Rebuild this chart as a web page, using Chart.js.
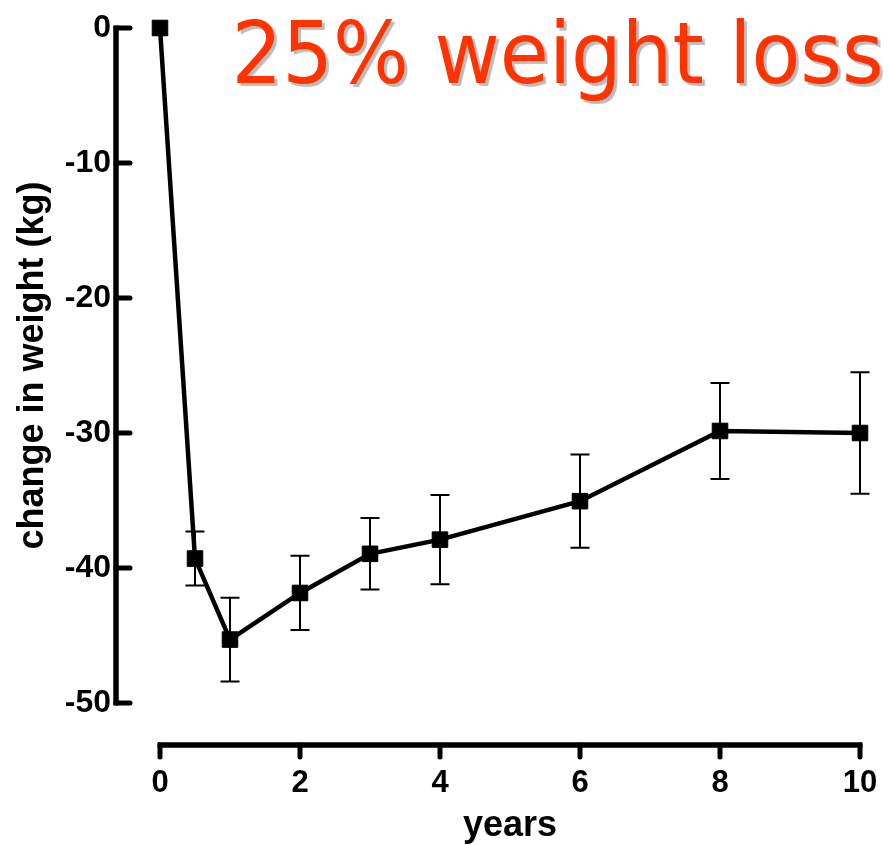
<!DOCTYPE html>
<html>
<head>
<meta charset="utf-8">
<script src="https://cdn.jsdelivr.net/npm/chart.js@4"></script>
<style>
body { margin: 0; background: #fff; }
#wrap { width: 888px; height: 845px; position: relative; }
</style>
</head>
<body>
<div id="wrap"><canvas id="myChart"></canvas></div>
<script>
var years = [0, 0.5, 1, 2, 3, 4, 6, 8, 10]
var change = [0, -39.3, -45.3, -41.85, -38.95, -37.9, -35.05, -29.85, -30.0]
var sem = [0, 2.0, 3.1, 2.75, 2.65, 3.3, 3.45, 3.55, 4.5]
var xTicks = [0, 2, 4, 6, 8, 10]
var yTicks = [0, -10, -20, -30, -40, -50]
var titleText = "25% weight loss"

var points = years.map(function (x, i) { return {x: x, y: change[i]} })
var fam = '"Liberation Sans", Arial, sans-serif'

function noPad(s) {
  s.paddingTop = 0; s.paddingBottom = 0; s.paddingLeft = 0; s.paddingRight = 0
}

var errorBars = {
  id: 'errorBars',
  beforeDatasetsDraw: function (chart) {
    var ctx = chart.ctx, xs = chart.scales.x, ys = chart.scales.y
    ctx.save()
    ctx.strokeStyle = '#000'
    ctx.lineWidth = 2
    years.forEach(function (x, i) {
      if (!sem[i]) return
      var px = xs.getPixelForValue(x)
      var top = ys.getPixelForValue(change[i] + sem[i])
      var bot = ys.getPixelForValue(change[i] - sem[i])
      ctx.beginPath()
      ctx.moveTo(px, top); ctx.lineTo(px, bot)
      ctx.moveTo(px - 9.5, top); ctx.lineTo(px + 9.5, top)
      ctx.moveTo(px - 9.5, bot); ctx.lineTo(px + 9.5, bot)
      ctx.stroke()
    })
    ctx.restore()
  }
}

var axesLines = {
  id: 'axesLines',
  afterDraw: function (chart) {
    var ctx = chart.ctx, xs = chart.scales.x, ys = chart.scales.y, a = chart.chartArea
    var ax = a.left - 44, ay = a.bottom + 42
    ctx.save()
    ctx.strokeStyle = '#000'
    ctx.lineWidth = 5.5
    ctx.lineCap = 'butt'
    ctx.beginPath()
    ctx.moveTo(ax, ys.getPixelForValue(yTicks[0]) - 2.5)
    ctx.lineTo(ax, ys.getPixelForValue(yTicks[yTicks.length - 1]) + 2.5)
    ctx.moveTo(xs.getPixelForValue(xTicks[0]) - 2.5, ay)
    ctx.lineTo(xs.getPixelForValue(xTicks[xTicks.length - 1]) + 2.5, ay)
    ctx.stroke()
    ctx.lineWidth = 5
    ctx.lineCap = 'round'
    ctx.beginPath()
    yTicks.forEach(function (v) {
      var py = ys.getPixelForValue(v)
      ctx.moveTo(ax, py); ctx.lineTo(ax + 14, py)
    })
    xTicks.forEach(function (v) {
      var px = xs.getPixelForValue(v)
      ctx.moveTo(px, ay); ctx.lineTo(px, ay + 12)
    })
    ctx.stroke()

    // big red title with grey shadow
    ctx.font = '86px "DejaVu Sans"'
    var m = ctx.measureText(titleText)
    var w = m.actualBoundingBoxLeft + m.actualBoundingBoxRight
    var sx = 643 / w
    ctx.translate(237, 83)
    ctx.scale(sx, 1)
    ctx.shadowColor = '#bcbcbc'
    ctx.shadowOffsetX = 3
    ctx.shadowOffsetY = 3
    ctx.shadowBlur = 1
    ctx.fillStyle = 'rgb(255,51,0)'
    ctx.textBaseline = 'alphabetic'
    ctx.fillText(titleText, m.actualBoundingBoxLeft, 0)
    ctx.restore()
  }
}

var myChart = new Chart(document.querySelector('#myChart'), {
  type: 'line',
  data: {
    datasets: [{
      data: points,
      borderColor: '#000',
      borderWidth: 4.5,
      tension: 0,
      fill: false,
      clip: false,
      pointStyle: 'rect',
      pointRadius: 11,
      pointHoverRadius: 11,
      pointBackgroundColor: '#000',
      pointBorderColor: '#000',
      pointBorderWidth: 1
    }]
  },
  options: {
    responsive: true,
    maintainAspectRatio: false,
    animation: false,
    devicePixelRatio: 1,
    layout: {padding: {top: 28, right: 28, left: 0, bottom: 0}},
    plugins: {legend: {display: false}, tooltip: {enabled: false}},
    scales: {
      x: {
        type: 'linear',
        min: 0,
        max: 10,
        afterFit: function (s) { s.height = 142; noPad(s) },
        afterBuildTicks: function (s) { s.ticks = xTicks.map(function (v) { return {value: v} }) },
        grid: {display: false, drawTicks: false},
        border: {display: false},
        ticks: {padding: 62, color: '#000', maxRotation: 0, font: {family: fam, weight: 'bold', size: 31}},
        title: {display: true, text: 'years', color: '#000', padding: {top: 0, bottom: 1},
          font: {family: fam, weight: 'bold', size: 36, lineHeight: 1}}
      },
      y: {
        min: -50,
        max: 0,
        afterFit: function (s) { s.width = 160; noPad(s) },
        afterBuildTicks: function (s) { s.ticks = yTicks.map(function (v) { return {value: v} }) },
        grid: {display: false, drawTicks: false},
        border: {display: false},
        ticks: {padding: 49, color: '#000', font: {family: fam, weight: 'bold', size: 32}},
        title: {display: true, text: 'change in weight (kg)', color: '#000', padding: {top: 11, bottom: 0},
          font: {family: fam, weight: 'bold', size: 36}}
      }
    }
  },
  plugins: [errorBars, axesLines]
})
</script>
</body>
</html>
